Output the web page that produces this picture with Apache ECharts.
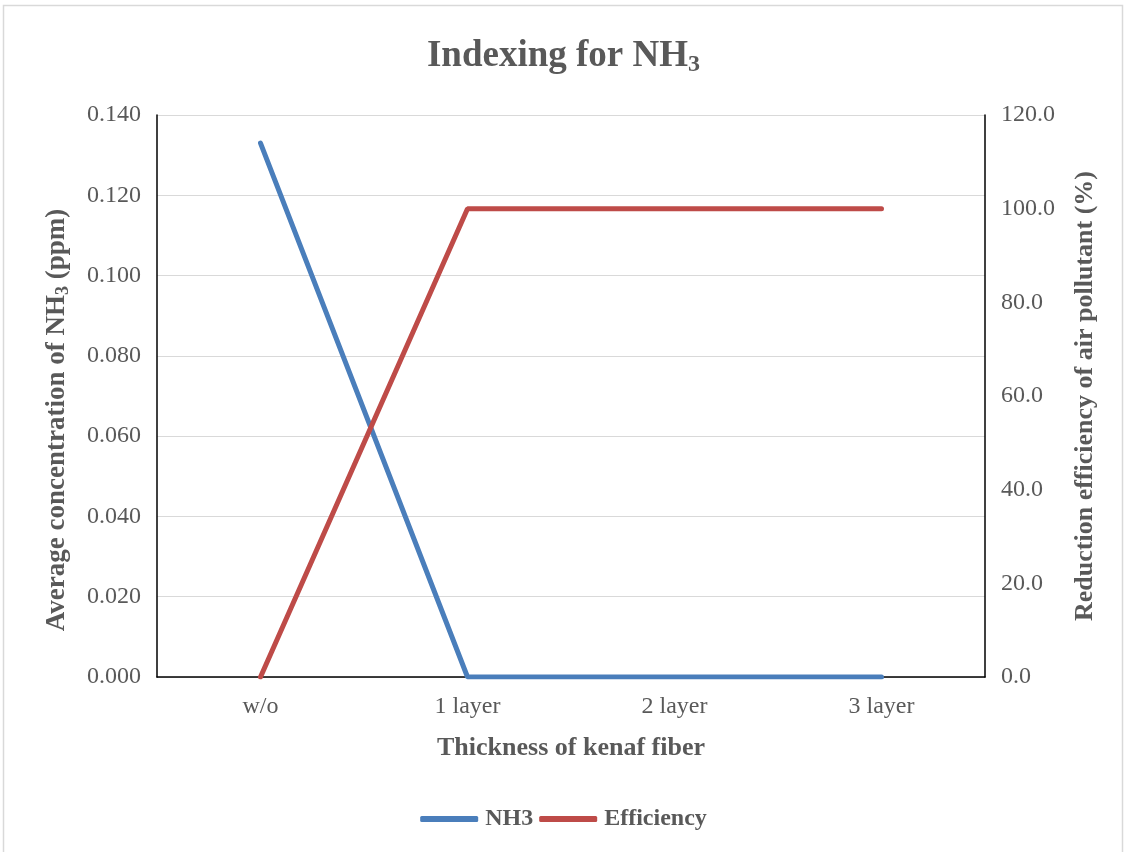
<!DOCTYPE html>
<html>
<head>
<meta charset="utf-8">
<script src="https://cdn.jsdelivr.net/npm/echarts@6/dist/echarts.min.js"></script>
<style>
html,body{margin:0;padding:0;background:#fff;}
#chart{width:1127px;height:852px;}
</style>
</head>
<body>
<div id="chart"></div>
<script>
const categories = ['w/o', '1 layer', '2 layer', '3 layer'];
const nh3Values = [0.133, 0.000, 0.000, 0.000];
const efficiencyValues = [0.0, 100.0, 100.0, 100.0];
const seriesNames = ['NH3', 'Efficiency'];

const FONT = '"Liberation Serif", "Times New Roman", serif';
const TXT = '#595959';

const chart = echarts.init(document.getElementById('chart'), null, {renderer: 'canvas'});
chart.setOption({
  backgroundColor: '#fff',
  animation: false,
  graphic: [{
    type: 'rect', silent: true,
    shape: {x: 3.5, y: 5.5, width: 1119, height: 852},
    style: {fill: 'none', stroke: '#D9D9D9', lineWidth: 1.5}
  }],
  title: {
    text: 'Indexing for NH{sub|3}',
    left: 'center', top: 30,
    textStyle: {
      fontFamily: FONT, fontSize: 37, fontWeight: 'bold', color: TXT,
      rich: {sub: {fontFamily: FONT, fontSize: 24, fontWeight: 'bold', color: TXT, verticalAlign: 'bottom', padding: [18, 0, 0, 0]}}
    }
  },
  legend: {
    data: seriesNames,
    bottom: 16, left: 'center',
    icon: 'roundRect', itemWidth: 58, itemHeight: 6, itemGap: 6,
    textStyle: {fontFamily: FONT, fontSize: 24, fontWeight: 'bold', color: TXT, padding: [0, 0, 0, 2]}
  },
  grid: {left: 157, right: 142, top: 115, bottom: 175, containLabel: false},
  xAxis: {
    type: 'category', data: categories, boundaryGap: true,
    name: 'Thickness of kenaf fiber', nameLocation: 'middle', nameGap: 58,
    nameTextStyle: {fontFamily: FONT, fontSize: 26, fontWeight: 'bold', color: TXT},
    axisLine: {lineStyle: {color: '#000', width: 1.5}},
    axisTick: {show: false},
    axisLabel: {fontFamily: FONT, fontSize: 24, color: TXT, margin: 18}
  },
  yAxis: [{
    type: 'value', min: 0, max: 0.14, interval: 0.02, position: 'left',
    name: 'Average concentration of NH{sub|3} (ppm)', nameLocation: 'middle', nameGap: 85, nameRotate: 90,
    nameTextStyle: {fontFamily: FONT, fontSize: 27, fontWeight: 'bold', color: TXT, padding: [0, 48, 0, 0],
      rich: {sub: {fontFamily: FONT, fontSize: 18, fontWeight: 'bold', color: TXT, verticalAlign: 'bottom', padding: [12, 0, 0, 0]}}},
    axisLine: {show: true, lineStyle: {color: '#000', width: 1.5}},
    axisTick: {show: false},
    splitLine: {lineStyle: {color: '#D9D9D9', width: 1}},
    axisLabel: {fontFamily: FONT, fontSize: 24, color: TXT, margin: 16, formatter: v => v.toFixed(3)}
  }, {
    type: 'value', min: 0, max: 120, interval: 20, position: 'right',
    name: 'Reduction efficiency of air pollutant (%)', nameLocation: 'middle', nameGap: 87, nameRotate: 90,
    nameTextStyle: {fontFamily: FONT, fontSize: 26, fontWeight: 'bold', color: TXT},
    axisLine: {show: true, lineStyle: {color: '#000', width: 1.5}},
    axisTick: {show: false},
    splitLine: {show: false},
    axisLabel: {fontFamily: FONT, fontSize: 24, color: TXT, margin: 16, formatter: v => v.toFixed(1)}
  }],
  series: [{
    name: seriesNames[0], type: 'line', yAxisIndex: 0, data: nh3Values,
    symbol: 'none', lineStyle: {color: '#4A7EBB', width: 5, cap: 'round'}, itemStyle: {color: '#4A7EBB'}
  }, {
    name: seriesNames[1], type: 'line', yAxisIndex: 1, data: efficiencyValues,
    symbol: 'none', lineStyle: {color: '#BE4B48', width: 5, cap: 'round'}, itemStyle: {color: '#BE4B48'}
  }]
});
</script>
</body>
</html>
